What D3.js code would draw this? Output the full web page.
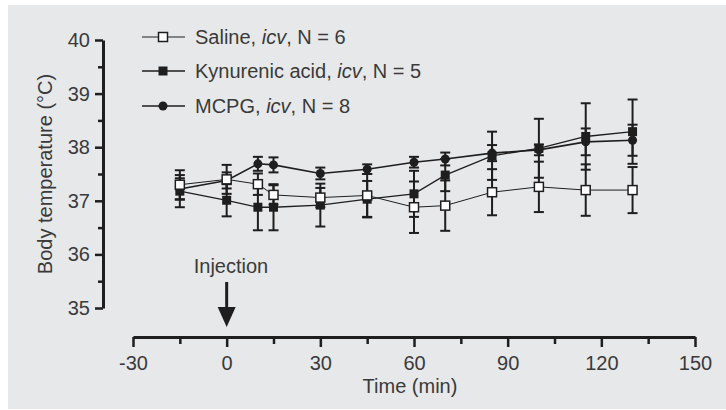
<!DOCTYPE html>
<html>
<head>
<meta charset="utf-8">
<script src="https://cdn.jsdelivr.net/npm/d3@7"></script>
<style>
  body { margin: 0; background: #fff; }
  text { font-family: "Liberation Sans", Arial, sans-serif; fill: #3a3a3a; }
</style>
</head>
<body>
<script>
// time points (min)
const times = [-15, 0, 10, 15, 30, 45, 60, 70, 85, 100, 115, 130];

// body temperature, mean and SEM
const salineMean = [37.30, 37.40, 37.31, 37.11, 37.06, 37.10, 36.88, 36.91, 37.16, 37.26, 37.20, 37.20];
const salineErr  = [0.27, 0.27, 0.20, 0.18, 0.18, 0.40, 0.48, 0.47, 0.43, 0.47, 0.48, 0.43];
const kynMean = [37.18, 37.01, 36.88, 36.88, 36.92, 37.03, 37.13, 37.48, 37.84, 37.98, 38.20, 38.29];
const kynErr  = [0.30, 0.30, 0.43, 0.43, 0.40, 0.34, 0.43, 0.30, 0.45, 0.55, 0.62, 0.60];
const mcpgMean = [37.22, 37.38, 37.69, 37.67, 37.51, 37.59, 37.72, 37.78, 37.89, 37.95, 38.10, 38.13];
const mcpgErr  = [0.20, 0.15, 0.13, 0.14, 0.11, 0.09, 0.10, 0.12, 0.15, 0.10, 0.25, 0.29];

const yTicks = [35, 36, 37, 38, 39, 40];
const yMinor = [35.5, 36.5, 37.5, 38.5, 39.5];
const xTicks = [-30, 0, 30, 60, 90, 120, 150];
const xMinor = [-15, 15, 45, 75, 105, 135];

const series = [
  {name: 'MCPG', n: 8, mean: mcpgMean, err: mcpgErr, marker: 'circle', width: 1.6},
  {name: 'Kynurenic acid', n: 5, mean: kynMean, err: kynErr, marker: 'filled', width: 1.3},
  {name: 'Saline', n: 6, mean: salineMean, err: salineErr, marker: 'open', width: 1},
];

const W = 726, H = 410;
const svg = d3.select(document.body).append('svg')
  .attr('width', W)
  .attr('height', H);

svg.append('rect')
  .attr('x', 8).attr('y', 5)
  .attr('width', W - 8).attr('height', H - 6)
  .attr('fill', '#e7e8ea');

const x = d3.scaleLinear().domain([-30, 150]).range([133, 695]);
const y = d3.scaleLinear().domain([35, 40]).range([308, 40]);
const ink = '#1e1e1e';

// y axis
svg.append('g').attr('transform', 'translate(103,0)')
  .call(d3.axisLeft(y).tickValues(yTicks).tickSize(8).tickSizeOuter(0).tickPadding(5)
    .tickFormat(d => String(d)));
svg.append('g').attr('transform', 'translate(103,0)')
  .call(d3.axisLeft(y).tickValues(yMinor).tickSize(5).tickSizeOuter(0).tickFormat(''))
  .select('.domain').remove();

// x axis
svg.append('g').attr('transform', 'translate(0,337)')
  .call(d3.axisBottom(x).tickValues(xTicks).tickSize(10).tickSizeOuter(0).tickPadding(9)
    .tickFormat(d => String(d)));
svg.append('g').attr('transform', 'translate(0,337)')
  .call(d3.axisBottom(x).tickValues(xMinor).tickSize(7).tickSizeOuter(0).tickFormat(''))
  .select('.domain').remove();

svg.selectAll('.domain').attr('stroke', ink).attr('stroke-width', 3);
svg.selectAll('.tick line').attr('stroke', ink).attr('stroke-width', 2.5);
svg.selectAll('.tick text')
  .attr('font-size', 20)
  .attr('font-family', '"Liberation Sans", Arial, sans-serif')
  .attr('fill', '#3a3a3a');

// axis titles
svg.append('text')
  .attr('transform', 'translate(52,174) rotate(-90)')
  .attr('text-anchor', 'middle')
  .attr('font-size', 20)
  .text('Body temperature (°C)');
svg.append('text')
  .attr('x', 410).attr('y', 393)
  .attr('text-anchor', 'middle')
  .attr('font-size', 20)
  .text('Time (min)');

// injection arrow
svg.append('text')
  .attr('x', 231).attr('y', 273)
  .attr('text-anchor', 'middle')
  .attr('font-size', 20)
  .text('Injection');
svg.append('line')
  .attr('x1', x(0)).attr('x2', x(0))
  .attr('y1', 282).attr('y2', 309)
  .attr('stroke', ink).attr('stroke-width', 3);
svg.append('path')
  .attr('d', `M${x(0) - 9},307 L${x(0) + 9},307 L${x(0)},327 Z`)
  .attr('fill', ink);

// error bars
const cap = 5;
series.forEach(s => {
  const g = svg.append('g');
  times.forEach((t, i) => {
    const cx = x(t), hi = y(s.mean[i] + s.err[i]), lo = y(s.mean[i] - s.err[i]);
    g.append('line').attr('x1', cx).attr('x2', cx).attr('y1', hi).attr('y2', lo)
      .attr('stroke', ink).attr('stroke-width', 2);
    g.append('line').attr('x1', cx - cap).attr('x2', cx + cap).attr('y1', hi).attr('y2', hi)
      .attr('stroke', ink).attr('stroke-width', 2);
    g.append('line').attr('x1', cx - cap).attr('x2', cx + cap).attr('y1', lo).attr('y2', lo)
      .attr('stroke', ink).attr('stroke-width', 2);
  });
});

// lines
const line = d3.line().x((d, i) => x(times[i])).y(d => y(d));
series.forEach(s => {
  svg.append('path')
    .attr('d', line(s.mean))
    .attr('fill', 'none')
    .attr('stroke', ink)
    .attr('stroke-width', s.width);
});

function drawMarker(g, kind, cx, cy) {
  if (kind === 'circle') {
    g.append('circle').attr('cx', cx).attr('cy', cy).attr('r', 4.5).attr('fill', ink);
  } else if (kind === 'filled') {
    g.append('rect').attr('x', cx - 4.5).attr('y', cy - 4.5).attr('width', 9).attr('height', 9)
      .attr('fill', ink);
  } else {
    g.append('rect').attr('x', cx - 4.5).attr('y', cy - 4.5).attr('width', 9).attr('height', 9)
      .attr('fill', '#fff').attr('stroke', ink).attr('stroke-width', 1.5);
  }
}

// markers
series.forEach(s => {
  const g = svg.append('g');
  times.forEach((t, i) => drawMarker(g, s.marker, x(t), y(s.mean[i])));
});

// legend
const legendRows = [series[2], series[1], series[0]];
legendRows.forEach((s, i) => {
  const ly = [37, 71, 106][i];
  const g = svg.append('g');
  g.append('line').attr('x1', 142).attr('x2', 185).attr('y1', ly).attr('y2', ly)
    .attr('stroke', ink).attr('stroke-width', s.width);
  drawMarker(g, s.marker, 163, ly);
  const t = g.append('text').attr('x', 195).attr('y', ly + 7).attr('font-size', 20);
  t.append('tspan').text(s.name + ', ');
  t.append('tspan').attr('font-style', 'italic').text('icv');
  t.append('tspan').text(', N = ' + s.n);
});
</script>
</body>
</html>
